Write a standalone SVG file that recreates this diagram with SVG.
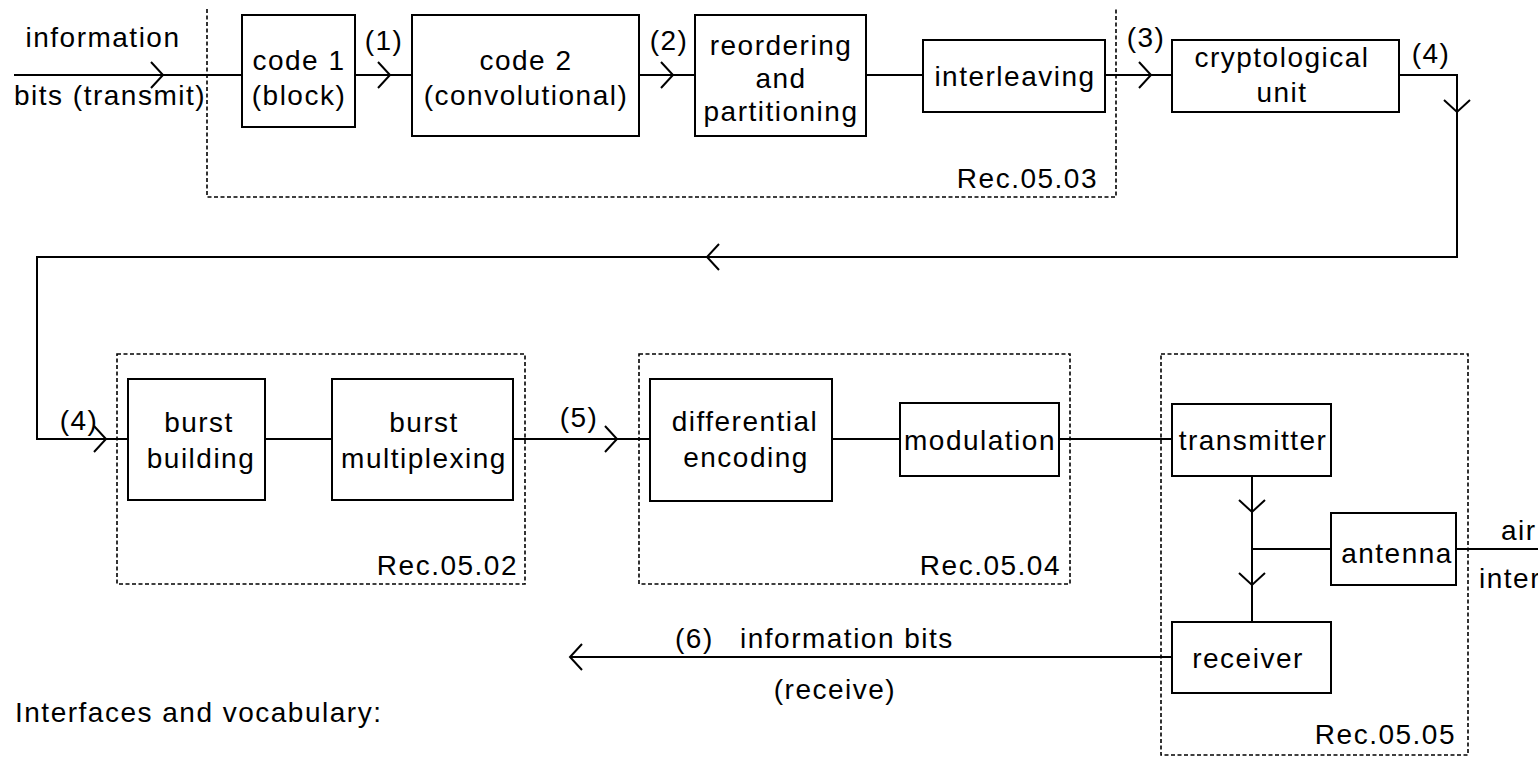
<svg xmlns="http://www.w3.org/2000/svg" xmlns:xlink="http://www.w3.org/1999/xlink" width="1538" height="757" viewBox="0 0 1538 757">
<style>
  text { font-family: "Liberation Sans", Arial, sans-serif; font-size: 28px; letter-spacing: 1.5px; fill: #000; }
  .m { text-anchor: middle; }
  .e { text-anchor: end; }
  .box { fill: #fff; stroke: #000; stroke-width: 2; }
  .grp { fill: none; stroke: #000; stroke-width: 1.6; stroke-dasharray: 4 2.5; }
  .wire { fill: none; stroke: #000; stroke-width: 2; }
  .chev { fill: none; stroke: #000; stroke-width: 2; }
</style>
<defs>
  <path id="chev" d="M-12,-13 L0,0 L-12,13"/>
</defs>
<rect width="1538" height="757" fill="#fff"/>

<!-- recommendation groups -->
<g id="rec0503">
  <path class="grp" d="M207 9 V197 H1116 V9"/>
  <text class="e" x="1098" y="188">Rec.05.03</text>
</g>
<g id="rec0502">
  <rect class="grp" x="117" y="354" width="408" height="230"/>
  <text class="e" x="518" y="575">Rec.05.02</text>
</g>
<g id="rec0504">
  <rect class="grp" x="639" y="354" width="431" height="230"/>
  <text class="e" x="1061" y="575">Rec.05.04</text>
</g>
<g id="rec0505">
  <rect class="grp" x="1161" y="354" width="307" height="401"/>
  <text class="e" x="1456" y="744">Rec.05.05</text>
</g>

<!-- connectors -->
<g id="connectors">
  <path class="wire" d="M14 75 H242"/>
  <path class="wire" d="M355 75 H412"/>
  <path class="wire" d="M639 75 H695"/>
  <path class="wire" d="M866 75 H923"/>
  <path class="wire" d="M1105 75 H1172"/>
  <path class="wire" d="M1399 75 H1457 V257 H37 V439 H128"/>
  <path class="wire" d="M265 439 H332"/>
  <path class="wire" d="M513 439 H650"/>
  <path class="wire" d="M832 439 H900"/>
  <path class="wire" d="M1059 439 H1172"/>
  <path class="wire" d="M1252 476 V622"/>
  <path class="wire" d="M1252 549 H1331"/>
  <path class="wire" d="M1456 549 H1538"/>
  <path class="wire" d="M1172 657 H570"/>
  <use class="chev" xlink:href="#chev" href="#chev" transform="translate(163 75)"/>
  <use class="chev" xlink:href="#chev" href="#chev" transform="translate(390 75)"/>
  <use class="chev" xlink:href="#chev" href="#chev" transform="translate(673 75)"/>
  <use class="chev" xlink:href="#chev" href="#chev" transform="translate(1151 75)"/>
  <use class="chev" xlink:href="#chev" href="#chev" transform="translate(1457 112) rotate(90)"/>
  <use class="chev" xlink:href="#chev" href="#chev" transform="translate(707 257) rotate(180)"/>
  <use class="chev" xlink:href="#chev" href="#chev" transform="translate(106 439)"/>
  <use class="chev" xlink:href="#chev" href="#chev" transform="translate(617 439)"/>
  <use class="chev" xlink:href="#chev" href="#chev" transform="translate(1252 512) rotate(90)"/>
  <use class="chev" xlink:href="#chev" href="#chev" transform="translate(1252 585) rotate(90)"/>
  <use class="chev" xlink:href="#chev" href="#chev" transform="translate(570 657) rotate(180)"/>
  <text class="m" x="103" y="47">information</text>
  <text class="m" x="110" y="105">bits (transmit)</text>
  <text class="m" x="384" y="50">(1)</text>
  <text class="m" x="669" y="50">(2)</text>
  <text class="m" x="1146" y="47">(3)</text>
  <text class="m" x="1431" y="63">(4)</text>
  <text class="m" x="79" y="430">(4)</text>
  <text class="m" x="579" y="427">(5)</text>
  <text x="1501" y="540">air</text>
  <text x="1479" y="588">interface</text>
  <text x="675" y="648">(6)</text>
  <text x="740" y="648">information bits</text>
  <text class="m" x="835" y="699">(receive)</text>
</g>

<!-- nodes -->
<g id="code1">
  <rect class="box" x="242" y="15" width="113" height="112"/>
  <text class="m" x="299" y="70">code 1</text>
  <text class="m" x="299" y="105">(block)</text>
</g>
<g id="code2">
  <rect class="box" x="412" y="15" width="227" height="121"/>
  <text class="m" x="526" y="70">code 2</text>
  <text class="m" x="526" y="105">(convolutional)</text>
</g>
<g id="reordering">
  <rect class="box" x="695" y="15" width="171" height="121"/>
  <text class="m" x="781" y="55">reordering</text>
  <text class="m" x="781" y="88">and</text>
  <text class="m" x="781" y="121">partitioning</text>
</g>
<g id="interleaving">
  <rect class="box" x="923" y="40" width="182" height="72"/>
  <text class="m" x="1015" y="86">interleaving</text>
</g>
<g id="crypto">
  <rect class="box" x="1172" y="40" width="227" height="72"/>
  <text class="m" x="1282" y="67">cryptological</text>
  <text class="m" x="1282" y="102">unit</text>
</g>
<g id="burstBuilding">
  <rect class="box" x="128" y="379" width="137" height="121"/>
  <text class="m" x="199" y="432">burst</text>
  <text class="m" x="201" y="468">building</text>
</g>
<g id="burstMultiplexing">
  <rect class="box" x="332" y="379" width="181" height="121"/>
  <text class="m" x="424" y="432">burst</text>
  <text class="m" x="424" y="468">multiplexing</text>
</g>
<g id="differential">
  <rect class="box" x="650" y="379" width="182" height="122"/>
  <text class="m" x="745" y="431">differential</text>
  <text class="m" x="746" y="467">encoding</text>
</g>
<g id="modulation">
  <rect class="box" x="900" y="403" width="159" height="73"/>
  <text class="m" x="980" y="450">modulation</text>
</g>
<g id="transmitter">
  <rect class="box" x="1172" y="404" width="159" height="72"/>
  <text class="m" x="1253" y="450">transmitter</text>
</g>
<g id="antenna">
  <rect class="box" x="1331" y="513" width="125" height="72"/>
  <text class="m" x="1397" y="563">antenna</text>
</g>
<g id="receiver">
  <rect class="box" x="1172" y="622" width="159" height="71"/>
  <text class="m" x="1248" y="668">receiver</text>
</g>

<g id="caption">
  <text x="15" y="722">Interfaces and vocabulary:</text>
</g>
</svg>
